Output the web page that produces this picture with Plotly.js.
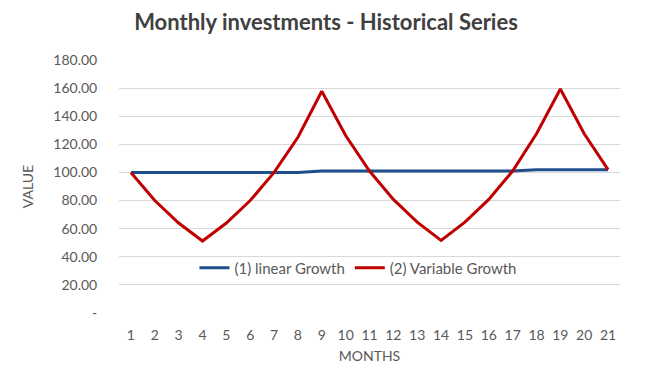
<!DOCTYPE html>
<html>
<head>
<meta charset="utf-8">
<script src="https://cdn.plot.ly/plotly-3.0.1.min.js"></script>
<style>html,body{margin:0;padding:0;background:#fff;}#chart{width:652px;height:388px;}</style>
</head>
<body>
<div id="chart"></div>
<script>
const months = ["1","2","3","4","5","6","7","8","9","10","11","12","13","14","15","16","17","18","19","20","21"];
const linearGrowth = [100,100,100,100,100,100,100,100,101,101,101,101,101,101,101,101,101,102,102,102,102];
const variableGrowth = [100,80,64,51.2,64,80,100,125,157.8,126.25,101,80.8,64.6,51.7,64.6,80.8,101,127.5,159.4,127.5,102];
const yTickVals = [0,20,40,60,80,100,120,140,160,180];
const yTickText = ["-","20.00","40.00","60.00","80.00","100.00","120.00","140.00","160.00","180.00"];

const font = "Lato, 'Open Sans', sans-serif";
const traces = [
  {x: months, y: linearGrowth, type: "scatter", mode: "lines", name: "(1) linear Growth",
   line: {color: "#1f4e8c", width: 3}},
  {x: months, y: variableGrowth, type: "scatter", mode: "lines", name: "(2) Variable Growth",
   line: {color: "#c00000", width: 3}}
];
const layout = {
  width: 652, height: 388,
  margin: {l: 119, r: 32, t: 60, b: 75},
  paper_bgcolor: "#fff", plot_bgcolor: "#fff",
  font: {family: font, color: "#595959", size: 14},
  title: {text: "<b>Monthly investments - Historical Series</b>", x: 0.5, xanchor: "center", y: 0.943, yanchor: "middle",
          font: {family: font, size: 22, color: "#404040"}},
  xaxis: {type: "category", range: [-0.5, 20.5], showgrid: false, zeroline: false, showline: false,
          ticks: "outside", ticklen: 9, tickcolor: "rgba(0,0,0,0)", tickfont: {size: 14, color: "#595959"},
          title: {text: "MONTHS", font: {size: 14, color: "#595959"}, standoff: 9}},
  yaxis: {range: [0, 180], tickvals: yTickVals, ticktext: yTickText, showgrid: true, gridcolor: "#d9d9d9", gridwidth: 1,
          zeroline: false, showline: false, ticks: "outside", ticklen: 18, tickcolor: "rgba(0,0,0,0)",
          tickfont: {size: 14, color: "#595959"},
          title: {text: "VALUE", font: {size: 14, color: "#595959"}, standoff: 16}},
  showlegend: true,
  legend: {orientation: "h", x: 0.477, xanchor: "center", y: 0.178, yanchor: "middle",
           bgcolor: "rgba(0,0,0,0)", font: {size: 15, color: "#595959"}, itemwidth: 30}
};
Plotly.newPlot("chart", traces, layout, {staticPlot: true, displayModeBar: false});
</script>
</body>
</html>
